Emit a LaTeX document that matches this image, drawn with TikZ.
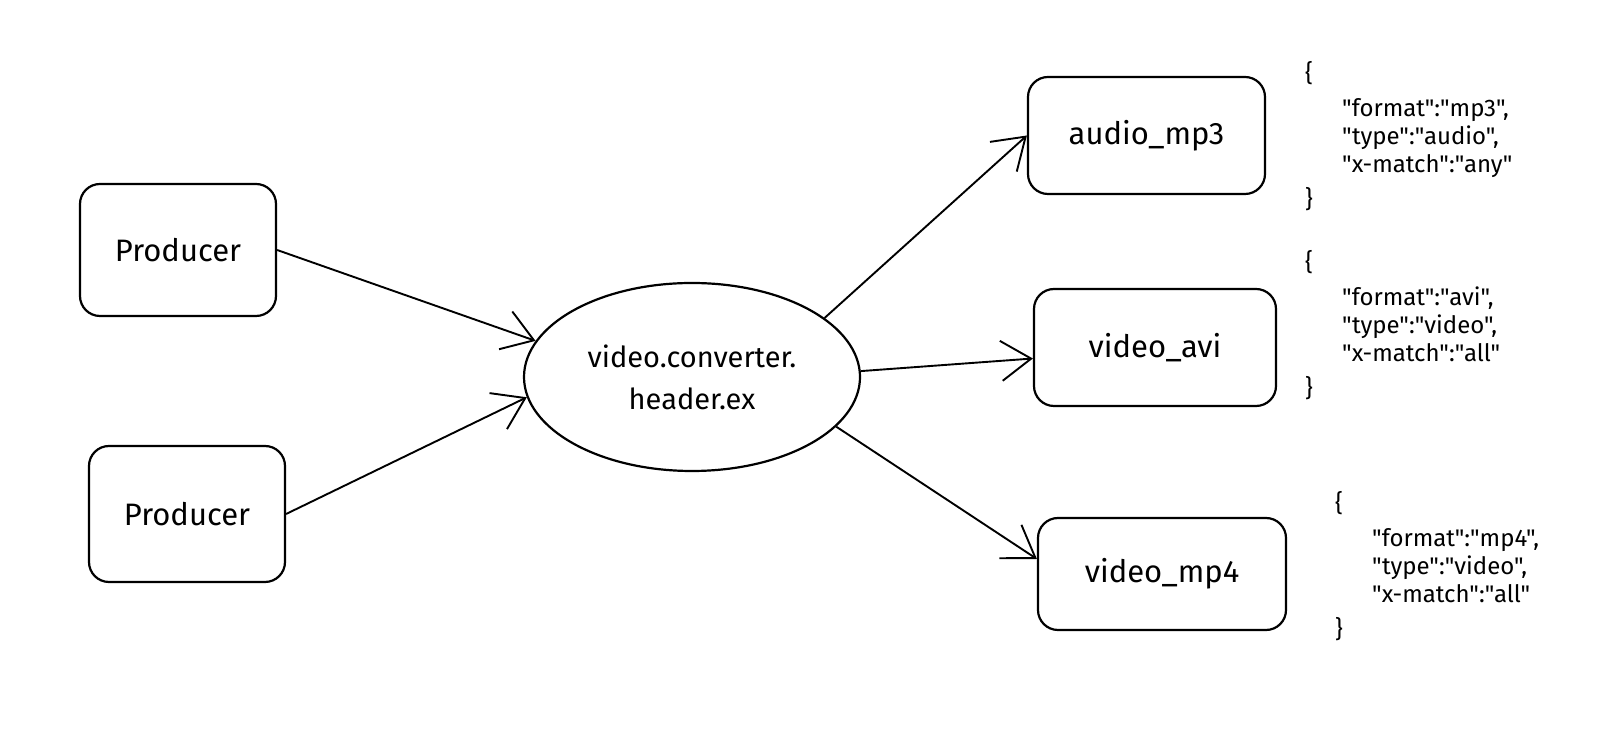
\documentclass[tikz,border=0pt]{standalone}
\usepackage{fontspec}
\setmainfont{Fira Sans}[Ligatures=TeXOff]
\usetikzlibrary{arrows.meta,shapes.geometric}
\begin{document}
\begin{tikzpicture}[x=1pt,y=1pt,
  box/.style={draw, line width=2.2pt, rounded corners=20pt, inner sep=0pt, font=\fontsize{31}{34}\selectfont},
  hub/.style={draw, ellipse, line width=2.2pt, inner sep=0pt, minimum width=336pt, minimum height=188pt, align=center, font=\fontsize{29}{42}\selectfont},
  link/.style={line width=1.9pt, -{Straight Barb[length=30pt,width=40pt]}},
  json/.style={anchor=north west, align=left, inner sep=0pt, font=\fontsize{24}{28}\selectfont}]
\useasboundingbox (0,0) rectangle (1600,730);
\node[box, minimum width=196pt, minimum height=132pt] (p1) at (178,480) {Producer};
\node[box, minimum width=196pt, minimum height=136pt] (p2) at (187,216) {Producer};
\node[hub] (ex) at (692,353) {video.converter.\\header.ex};
\node[box, minimum width=237pt, minimum height=117pt] (mp3) at (1146.5,594.5) {audio\_mp3};
\node[box, minimum width=242pt, minimum height=117pt] (avi) at (1155,382.5) {video\_avi};
\node[box, minimum width=248pt, minimum height=112pt] (mp4) at (1162,156) {video\_mp4};
\draw[link] (p1.east) -- (ex.167);
\draw[link] (p2.east) -- (ex.187);
\draw[link] (ex.24) -- (mp3.west);
\draw[link] (ex.2) -- ([yshift=-11pt]avi.west);
\draw[link] (ex.341) -- ([yshift=15pt]mp4.west);
\node[json] (j1) at (1305,669) {\{\\[7pt]\hspace*{37pt}"format":"mp3",\\\hspace*{37pt}"type":"audio",\\\hspace*{37pt}"x-match":"any"\\[7pt]\}};
\node[json] (j2) at (1305,480) {\{\\[7pt]\hspace*{37pt}"format":"avi",\\\hspace*{37pt}"type":"video",\\\hspace*{37pt}"x-match":"all"\\[7pt]\}};
\node[json] (j3) at (1335,239) {\{\\[7pt]\hspace*{37pt}"format":"mp4",\\\hspace*{37pt}"type":"video",\\\hspace*{37pt}"x-match":"all"\\[7pt]\}};
\end{tikzpicture}
\end{document}
